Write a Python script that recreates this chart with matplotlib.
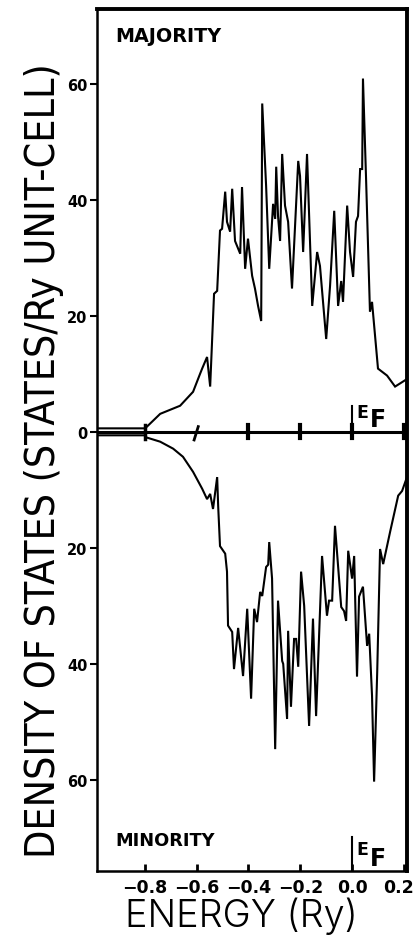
import numpy as np
import matplotlib
matplotlib.use('Agg')
import matplotlib.pyplot as plt
from matplotlib import font_manager
from matplotlib.transforms import ScaledTranslation

#--------------------------------------------------------------------------------------------------------
# Density of states (energy in Ry, DOS in states/Ry unit-cell)

majority_energy = [-0.985, -0.800, -0.792, -0.741, -0.664, -0.614, -0.587, -0.579, -0.560, -0.548,
                   -0.533, -0.521, -0.510, -0.502, -0.490, -0.483, -0.471, -0.463, -0.452, -0.432,
                   -0.425, -0.413, -0.402, -0.386, -0.375, -0.363, -0.351, -0.347, -0.332, -0.320,
                   -0.305, -0.297, -0.293, -0.286, -0.278, -0.270, -0.259, -0.247, -0.232, -0.208,
                   -0.201, -0.189, -0.174, -0.154, -0.135, -0.124, -0.100, -0.085, -0.077, -0.069,
                   -0.054, -0.042, -0.035, -0.019, -0.008, 0.004, 0.015, 0.023, 0.031, 0.039,
                   0.042, 0.054, 0.069, 0.077, 0.100, 0.135, 0.166, 0.212]
majority_dos = [0.6, 0.6, 0.9, 3.1, 4.5, 6.9, 10.0, 10.9, 12.9, 7.8,
                23.8, 24.3, 34.7, 35.0, 41.4, 36.2, 34.5, 41.9, 32.9, 30.7,
                42.2, 28.1, 33.3, 26.9, 24.7, 21.7, 19.1, 56.6, 42.4, 28.1,
                39.3, 36.7, 45.7, 37.2, 32.9, 47.9, 39.0, 36.2, 24.7, 46.7,
                44.1, 31.0, 47.9, 21.7, 31.0, 28.6, 16.0, 25.2, 31.6, 38.1,
                21.7, 26.0, 22.4, 39.0, 31.0, 26.7, 36.2, 37.2, 45.3, 45.3,
                60.9, 43.6, 20.7, 22.4, 10.9, 9.7, 7.8, 9.1]

minority_energy = [-0.985, -0.800, -0.799, -0.741, -0.691, -0.653, -0.614, -0.579, -0.560, -0.548,
                   -0.537, -0.521, -0.517, -0.510, -0.490, -0.483, -0.479, -0.463, -0.456, -0.440,
                   -0.421, -0.405, -0.390, -0.378, -0.367, -0.355, -0.347, -0.332, -0.324, -0.320,
                   -0.309, -0.297, -0.286, -0.270, -0.266, -0.251, -0.247, -0.236, -0.224, -0.216,
                   -0.208, -0.197, -0.185, -0.166, -0.151, -0.139, -0.116, -0.097, -0.089, -0.077,
                   -0.066, -0.042, -0.031, -0.023, -0.015, 0.000, 0.008, 0.019, 0.027, 0.042,
                   0.058, 0.066, 0.077, 0.085, 0.097, 0.108, 0.120, 0.147, 0.178, 0.193, 0.212]
minority_dos = [0.6, 0.6, 0.9, 1.7, 2.9, 4.3, 6.9, 9.8, 11.6, 10.7,
                13.3, 7.8, 12.9, 19.7, 21.0, 24.1, 33.4, 34.5, 40.9, 33.8,
                42.1, 30.5, 46.0, 30.5, 32.8, 27.6, 28.3, 23.3, 22.9, 19.0,
                25.3, 54.7, 29.1, 39.5, 40.0, 49.5, 34.3, 47.4, 35.7, 35.7,
                40.5, 24.1, 30.0, 50.7, 32.2, 49.0, 21.4, 31.7, 29.1, 29.1,
                16.2, 30.2, 30.9, 32.6, 20.5, 25.3, 21.4, 42.2, 28.4, 26.7,
                36.9, 34.8, 45.5, 60.3, 41.4, 20.2, 22.8, 17.2, 11.0, 10.2, 7.8]

energy_ticks = [-0.8, -0.6, -0.4, -0.2, 0.0, 0.2]
energy_labels = ['\u22120.8', '\u22120.6', '\u22120.4', '\u22120.2', '0.0', '0.2']
dos_ticks = [-60, -40, -20, 0, 20, 40, 60]
dos_labels = ['60', '40', '20', '0', '20', '40', '60']
fermi_energy = 0.0

#--------------------------------------------------------------------------------------------------------
# font lookup: a condensed face for the DOS title, a light face for the energy title


def weightOf(entry):
    w = entry.weight
    if isinstance(w, str):
        w = font_manager.weight_dict.get(w, 400)
    return w


entries = font_manager.fontManager.ttflist
condensed = [f for f in entries
             if ('Condensed' in f.name or 'Narrow' in f.name
                 or f.stretch in ('condensed', 'semi-condensed', 'extra-condensed', 'ultra-condensed'))
             and f.style == 'normal']
if condensed:
    condensed.sort(key=lambda f: abs(weightOf(f) - 350))
    titleFontY = font_manager.FontProperties(fname=condensed[0].fname)
else:
    titleFontY = font_manager.FontProperties(family='Roboto', weight='light')

light = [f for f in entries if f.name in ('Roboto', 'Lato', 'Open Sans', 'Inter', 'Noto Sans')
         and f.style == 'normal' and 250 <= weightOf(f) <= 350]
if light:
    titleFontX = font_manager.FontProperties(fname=light[0].fname)
else:
    titleFontX = font_manager.FontProperties(family='Roboto')

#--------------------------------------------------------------------------------------------------------

fig = plt.figure(figsize=(4.17, 9.37), dpi=100)
ax = fig.add_axes([0.2326, 0.0694, 0.7434, 0.92])

ax.plot(majority_energy, majority_dos, color='black', lw=1.5, solid_joinstyle='miter')
ax.plot(minority_energy, -np.array(minority_dos), color='black', lw=1.5, solid_joinstyle='miter')

# zero line with its own ticks and the break mark at -0.6
ax.axhline(0, color='black', lw=2.2)
for e in energy_ticks:
    if e == -0.6:
        ax.plot([e - 0.010, e + 0.006], [-1.4, 0.9], color='black', lw=2.0)
    elif e == -0.8:
        ax.plot([e, e], [-1.2, 1.2], color='black', lw=2.5)
    else:
        ax.plot([e, e], [-1.1, 1.1], color='black', lw=3.0)

ax.set_xlim(-0.985, 0.212)
ax.set_ylim(-75.7, 72.9)

# Fermi level markers
ax.plot([fermi_energy, fermi_energy], [0, 4.5], color='black', lw=1.5)
ax.plot([fermi_energy, fermi_energy], [-75.7, -69.8], color='black', lw=1.5)
ax.text(0.016, 1.8, 'E', fontsize=12.5, fontweight='bold', ha='left', va='bottom')
ax.text(0.070, 0.1, 'F', fontsize=17, fontweight='bold', ha='left', va='bottom')
ax.text(0.016, -73.5, 'E', fontsize=12.5, fontweight='bold', ha='left', va='bottom')
ax.text(0.070, -75.6, 'F', fontsize=17, fontweight='bold', ha='left', va='bottom')

ax.text(-0.915, 70.0, 'MAJORITY', fontsize=13.8, fontweight='heavy', ha='left', va='top')
ax.text(-0.915, -71.9, 'MINORITY', fontsize=12.8, fontweight='heavy', ha='left', va='bottom')

ax.set_xticks(energy_ticks)
ax.set_xticklabels(energy_labels, fontsize=12.5, fontweight='bold')
ax.set_yticks(dos_ticks)
ax.set_yticklabels(dos_labels, fontsize=10.5, fontweight='bold')
ax.tick_params(axis='x', direction='in', length=5, width=2, pad=5)
ax.tick_params(axis='y', direction='out', length=5, width=1.5, pad=2)

# the last energy label sits a few pixels left so it stays inside the picture
lastLabel = ax.get_xticklabels()[-1]
lastLabel.set_transform(lastLabel.get_transform() + ScaledTranslation(-5 / 100, 0, fig.dpi_scale_trans))

for side in ['left', 'bottom']:
    ax.spines[side].set_linewidth(1.8)
for side in ['top', 'right']:
    ax.spines[side].set_linewidth(2.8)

xlab = fig.text(241 / 417, 1 - 916 / 937, 'ENERGY (Ry)', fontproperties=titleFontX,
                ha='center', va='center')
xlab.set_fontsize(25)
ylab = fig.text(44 / 417, 1 - 461 / 937, 'DENSITY OF STATES (STATES/Ry UNIT-CELL)',
                fontproperties=titleFontY, rotation=90, ha='center', va='center')
ylab.set_fontsize(30)

# scale the two axis titles so they cover the same length as in the original
fig.canvas.draw()
renderer = fig.canvas.get_renderer()
bb = xlab.get_window_extent(renderer)
xlab.set_fontsize(xlab.get_fontsize() * 233 / bb.width)
bb = ylab.get_window_extent(renderer)
ylab.set_fontsize(ylab.get_fontsize() * 795 / bb.height)

fig.savefig('out.png', dpi=100)
